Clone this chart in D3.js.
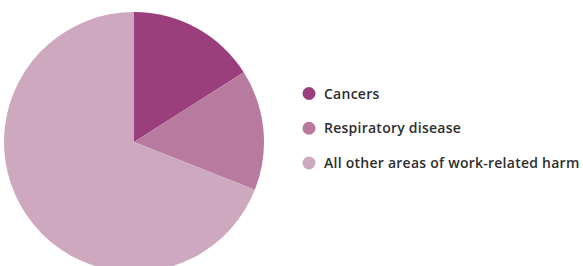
<!DOCTYPE html>
<html><head><meta charset="utf-8">
<script src="https://cdn.jsdelivr.net/npm/d3@7"></script>
<style>html,body{margin:0;padding:0;background:#fff;}</style>
</head><body>
<svg id="chart" width="583" height="266"></svg>
<script>
const categories = ["Cancers", "Respiratory disease", "All other areas of work-related harm"];
const values = [16, 15, 69];
const colors = ["#9b3f7c", "#b87a9f", "#cda8bf"];

const svg = d3.select("#chart");
const cx = 134, cy = 142, r = 130;
const pie = d3.pie().sort(null).value(d => d.v);
const arc = d3.arc().innerRadius(0).outerRadius(r);
const data = categories.map((c, i) => ({c, v: values[i], col: colors[i]}));
svg.append("g").attr("transform", `translate(${cx},${cy})`)
  .selectAll("path").data(pie(data)).join("path")
  .attr("d", arc).attr("fill", d => d.data.col);

const y = d3.scalePoint().domain(categories).range([93.5, 163]);
const lg = svg.append("g");
const items = lg.selectAll("g").data(data).join("g")
  .attr("transform", d => `translate(309,${y(d.c)})`);
items.append("circle").attr("r", 6.5).attr("fill", d => d.col);
items.append("text").attr("x", 15).attr("dy", "0.36em")
  .attr("font-family", "'Open Sans', sans-serif").attr("font-weight", 600)
  .attr("font-size", 14).attr("letter-spacing", 0.25).attr("fill", "#2e2e2e")
  .text(d => d.c);
</script>
</body></html>
